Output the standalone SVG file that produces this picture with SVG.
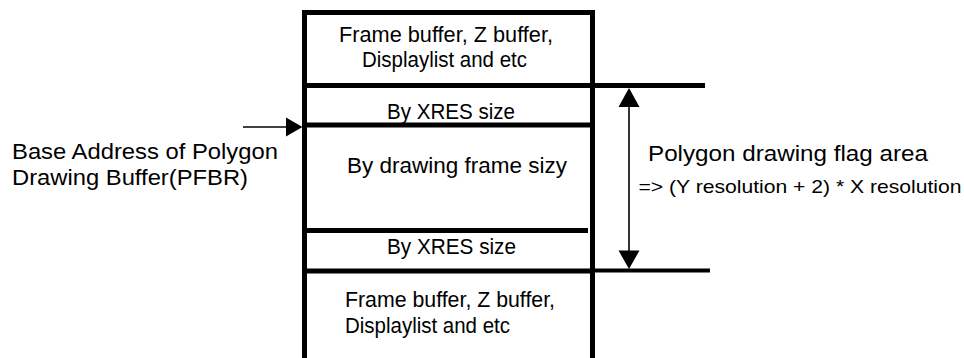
<svg xmlns="http://www.w3.org/2000/svg" width="964" height="358" viewBox="0 0 964 358">
<style>
text{font-family:"Liberation Sans",Arial,sans-serif;fill:#000}
.m{font-size:21.5px}
.l{font-size:22.5px}
.s{font-size:18.5px}
.thick{stroke:#000;stroke-width:5;fill:none}
.thin{stroke:#000;stroke-width:1.6;fill:none}
.head{fill:#000;stroke:none}
</style>
<rect width="964" height="358" fill="#fff"/>
<g id="memory-box">
<rect x="304.5" y="12.5" width="288" height="348.5" class="thick"/>
</g>
<g id="top-region">
<text class="m" x="339" y="41.7" textLength="214" lengthAdjust="spacingAndGlyphs">Frame buffer, Z buffer,</text>
<text class="m" x="362" y="66.7" textLength="165" lengthAdjust="spacingAndGlyphs">Displaylist and etc</text>
</g>
<g id="xres-top">
<text class="m" x="387" y="119" textLength="128" lengthAdjust="spacingAndGlyphs">By XRES size</text>
</g>
<g id="drawing-frame">
<text class="m" x="347" y="173.3" textLength="220" lengthAdjust="spacingAndGlyphs">By drawing frame sizy</text>
</g>
<g id="xres-bottom">
<text class="m" x="387" y="254" textLength="129" lengthAdjust="spacingAndGlyphs">By XRES size</text>
</g>
<g id="bottom-region">
<text class="m" x="345" y="307" textLength="210" lengthAdjust="spacingAndGlyphs">Frame buffer, Z buffer,</text>
<text class="m" x="345" y="332.7" textLength="165" lengthAdjust="spacingAndGlyphs">Displaylist and etc</text>
</g>
<g id="pfbr-label">
<text class="l" x="12" y="159.3" textLength="266" lengthAdjust="spacingAndGlyphs">Base Address of Polygon</text>
<text class="l" x="12" y="185" textLength="236" lengthAdjust="spacingAndGlyphs">Drawing Buffer(PFBR)</text>
</g>
<g id="flag-area-label">
<text class="l" x="648" y="161" textLength="280" lengthAdjust="spacingAndGlyphs">Polygon drawing flag area</text>
<text class="s" x="638.5" y="193" textLength="323" lengthAdjust="spacingAndGlyphs">=&gt; (Y resolution + 2) * X resolution</text>
</g>
<g id="connectors">
<line x1="302" y1="85.5" x2="705" y2="85.5" class="thick"/>
<line x1="302" y1="125" x2="592" y2="125" class="thick"/>
<line x1="302" y1="230.5" x2="588" y2="230.5" class="thick"/>
<line x1="302" y1="271" x2="592" y2="271" class="thick"/>
<line x1="592" y1="270.5" x2="710" y2="270.5" stroke="#000" stroke-width="4"/>
<line x1="629" y1="105" x2="629" y2="252" class="thin"/>
<polygon class="head" points="629,88 618.5,107 639.5,107"/>
<polygon class="head" points="629,269 618.5,250.5 639.5,250.5"/>
<line x1="243" y1="127" x2="288" y2="127" class="thin"/>
<polygon class="head" points="302.5,127 286,117.5 286,136.5"/>
</g>
</svg>
